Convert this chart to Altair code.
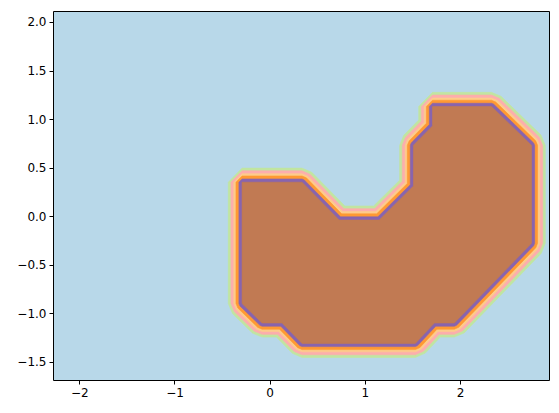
import altair as alt
import numpy as np
import pandas as pd

# Boundary of the innermost (brown) region, data coordinates
poly_x = [-0.29, 0.34, 0.73, 1.15, 1.51, 1.51, 1.71, 1.71, 2.33, 2.75, 2.75, 1.94, 1.73, 1.53, 0.34, 0.13, -0.08, -0.29]
poly_y = [0.35, 0.35, -0.04, -0.04, 0.31, 0.73, 0.93, 1.13, 1.13, 0.73, -0.28, -1.10, -1.10, -1.31, -1.31, -1.10, -1.10, -0.90]

# Contour bands, outermost first: outer distance from the brown boundary and colour
band_names = ["green", "pink", "lightorange", "orange", "purple", "brown"]
band_offsets = [0.145, 0.117, 0.087, 0.064, 0.033, 0.0]
band_colors = ["#c1e5a1", "#fcaead", "#fdcc8c", "#ff9933", "#8864ae", "#c17a53"]
background_color = "#b8d8e9"

x_ticks = [-2, -1, 0, 1, 2]
y_ticks = [-1.5, -1.0, -0.5, 0.0, 0.5, 1.0, 1.5, 2.0]
x_domain = [-2.276, 2.934]
y_domain = [-1.687, 2.113]


def offset_polygon(xs, ys, d):
    P = np.column_stack([xs, ys]).astype(float)
    if d == 0:
        return P
    n = len(P)
    area = 0.5 * np.sum(P[:, 0] * np.roll(P[:, 1], -1) - np.roll(P[:, 0], -1) * P[:, 1])
    s = 1.0 if area > 0 else -1.0
    out = []
    for i in range(n):
        a, b, c = P[i - 1], P[i], P[(i + 1) % n]
        e1 = (b - a) / np.linalg.norm(b - a)
        e2 = (c - b) / np.linalg.norm(c - b)
        n1 = s * np.array([e1[1], -e1[0]])
        n2 = s * np.array([e2[1], -e2[0]])
        cross = e1[0] * e2[1] - e1[1] * e2[0]
        if cross * s > 1e-9:
            out.append(b + d * n1)
            out.append(b + d * n2)
        else:
            m = n1 + n2
            out.append(b + d * m / (1 + np.dot(n1, n2)))
    return np.array(out)


rows = []
for name, d in zip(band_names, band_offsets):
    pts = offset_polygon(poly_x, poly_y, d)
    pts = np.vstack([pts, pts[:1]])
    for i, (px, py) in enumerate(pts):
        rows.append({"band": name, "i": i, "x": px, "y": py})
df = pd.DataFrame(rows)

x_enc = alt.X(
    "x:Q",
    scale=alt.Scale(domain=x_domain, nice=False, zero=False),
    axis=alt.Axis(values=x_ticks, title=None,
                  labelExpr="replace(format(datum.value, 'd'), '-', '\u2212')"),
)
y_enc = alt.Y(
    "y:Q",
    scale=alt.Scale(domain=y_domain, nice=False, zero=False),
    axis=alt.Axis(values=y_ticks, title=None,
                  labelExpr="replace(format(datum.value, '.1f'), '-', '\u2212')"),
)

layers = []
for name, col in zip(band_names, band_colors):
    layers.append(
        alt.Chart(df)
        .transform_filter(alt.datum.band == name)
        .mark_line(filled=True, color=col, stroke=col, strokeWidth=0.6, clip=True)
        .encode(x=x_enc, y=y_enc, order=alt.Order("i:Q"))
    )

chart = (
    alt.layer(*layers)
    .properties(
        width=496,
        height=369,
        padding={"left": 45, "top": 3, "right": 2, "bottom": 30},
        autosize=alt.AutoSizeParams(type="none"),
        background="white",
    )
    .configure_view(fill=background_color, stroke="black", strokeWidth=1)
    .configure_axis(
        grid=False,
        domain=False,
        labelFont="DejaVu Sans",
        labelFontSize=12,
        labelColor="black",
        tickColor="black",
        tickSize=4,
        tickWidth=1,
        labelPadding=3,
    )
)

chart.save("out.html", embed_options={"renderer": "svg", "actions": False})
